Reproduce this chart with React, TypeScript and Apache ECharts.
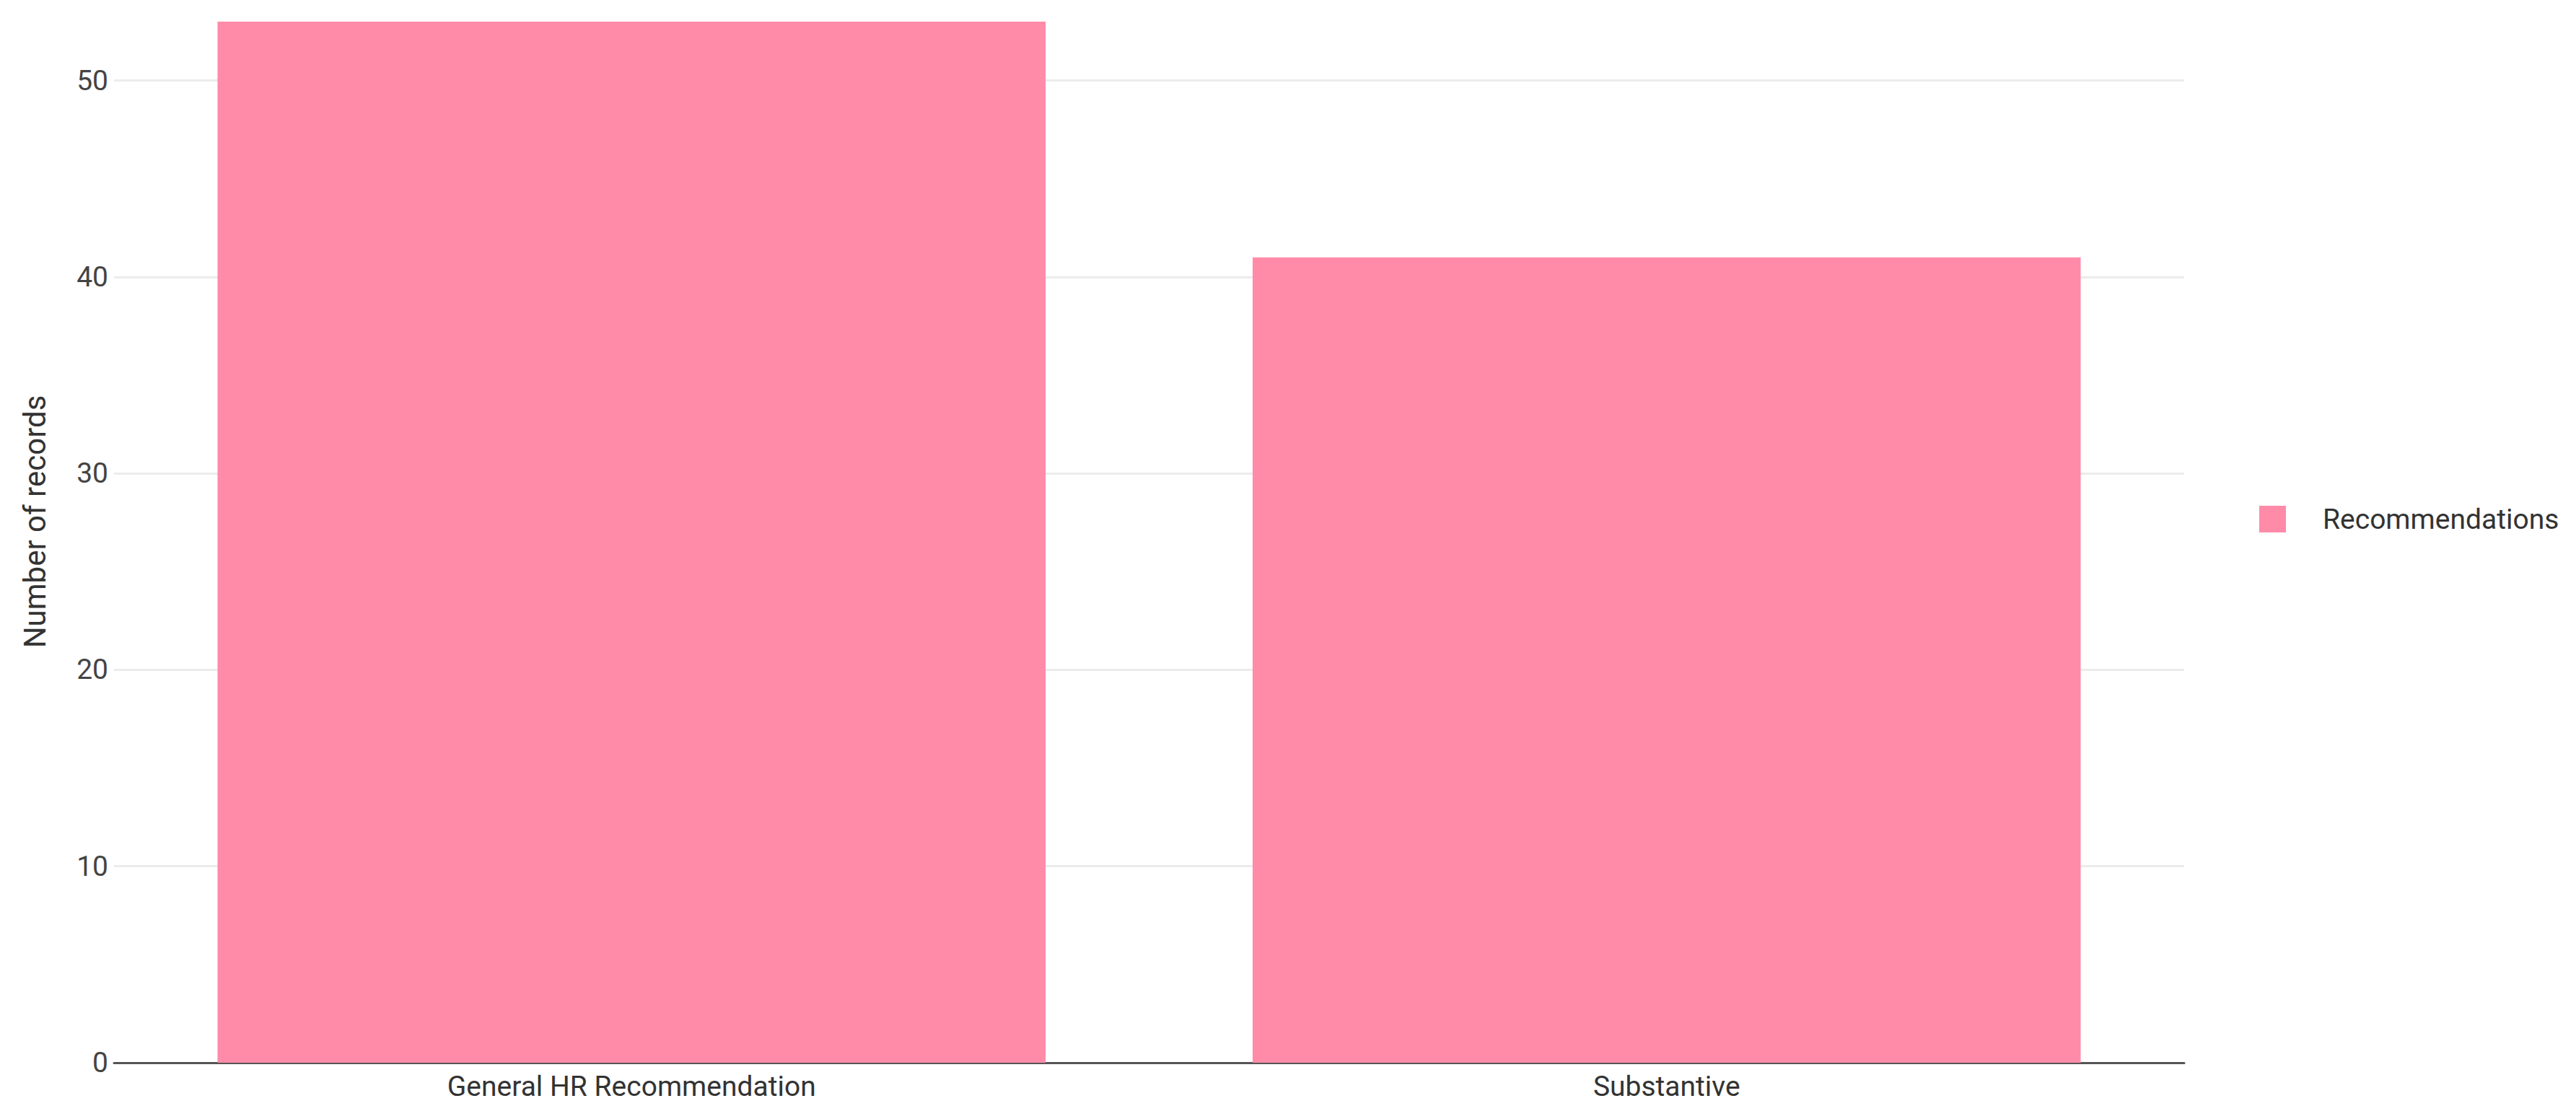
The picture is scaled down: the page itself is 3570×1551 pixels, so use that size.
import React, { useEffect, useRef } from "react";
import * as echarts from "echarts";

const categories = ["General HR Recommendation", "Substantive"];
const recommendations = [53, 41];
const seriesName = "Recommendations";
const yAxisTitle = "Number of records";

export default function App() {
  const ref = useRef<HTMLDivElement>(null);
  useEffect(() => {
    if (!ref.current) return;
    const chart = echarts.init(ref.current, null, { renderer: "svg" });
    chart.setOption({
      animation: false,
      textStyle: { fontFamily: "Roboto" },
      grid: { left: 158, right: 543, top: 30, bottom: 78, containLabel: false },
      legend: {
        orient: "vertical",
        left: 3126,
        top: 695,
        icon: "rect",
        itemWidth: 37,
        itemHeight: 37,
        textStyle: { fontSize: 39, color: "#333", padding: [0, 0, 0, 46], fontFamily: "Roboto" },
        data: [seriesName],
      },
      xAxis: {
        type: "category",
        data: categories,
        axisTick: { show: false },
        axisLine: { show: true, lineStyle: { color: "#555", width: 3 } },
        axisLabel: { fontSize: 39, color: "#333", margin: 13, fontFamily: "Roboto" },
      },
      yAxis: {
        type: "value",
        min: 0,
        max: 53,
        interval: 10,
        axisLine: { show: false },
        axisTick: { show: false },
        axisLabel: { fontSize: 39, color: "#444", margin: 8, fontFamily: "Roboto", showMaxLabel: false },
        splitLine: { showMaxLine: false, lineStyle: { color: "#ececec", width: 3 } },
      },
      graphic: [
        {
          type: "text",
          x: 48,
          y: 723,
          rotation: Math.PI / 2,
          style: {
            text: yAxisTitle,
            fontSize: 42,
            fill: "#333",
            fontFamily: "Roboto",
            align: "center",
            verticalAlign: "middle",
          },
        },
      ],
      series: [
        {
          name: seriesName,
          type: "bar",
          data: recommendations,
          barCategoryGap: "20%",
          itemStyle: { color: "#ff8ba9" },
        },
      ],
    });
    return () => chart.dispose();
  }, []);
  return (
    <div
      ref={ref}
      style={{ position: "absolute", left: 0, top: 0, width: 3570, height: 1551, background: "#fff" }}
    />
  );
}
